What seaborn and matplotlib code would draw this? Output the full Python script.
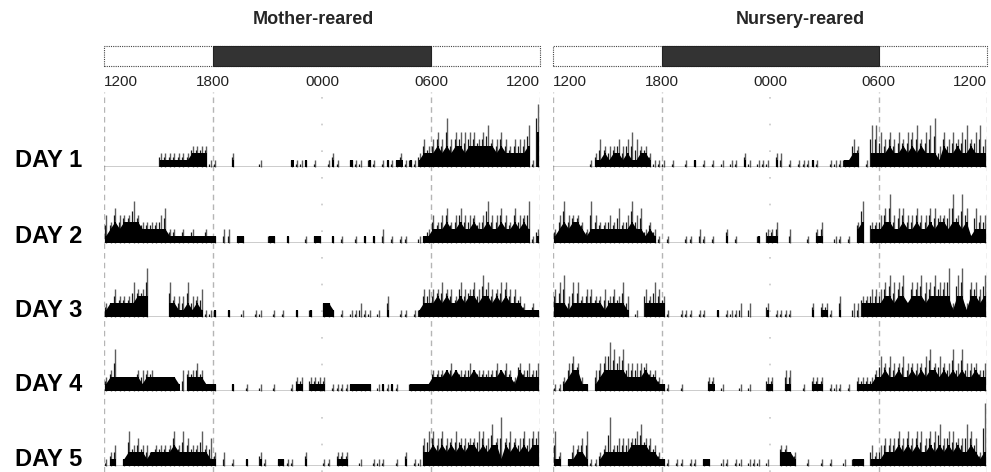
import matplotlib

matplotlib.use("Agg")
import matplotlib.pyplot as plt
import numpy as np
import seaborn as sns

sns.set_theme(style="white")
plt.rcParams["font.family"] = ["Liberation Sans", "DejaVu Sans"]

# 15-min bins starting at 1200, activity level 0-9 per bin
# "body" = dense black activity, "peak" = tallest spike in the bin
GROUPS = ["Mother-reared", "Nursery-reared"]
DAYS = ["DAY 1", "DAY 2", "DAY 3", "DAY 4", "DAY 5"]
TICK_HOURS = [0, 6, 12, 18, 24]
TICK_LABELS = ["1200", "1800", "0000", "0600", "1200"]
BIN_HOURS = 0.25

MR_BODY = [
    "000000000000" "111111122220" "000010000000" "000001001000"
    "001000100010" "001011010122" "232323323333" "332322222305",
    "123233332222" "221111111111" "100001100000" "110010000011"
    "001000000101" "000000000011" "222322322322" "322322323201",
    "122222233300" "002211212100" "100100000000" "000000100100"
    "221000000000" "001000000122" "232322323323" "323232221111",
    "122222221222" "222210222211" "100010000000" "000000110111"
    "100000111110" "010100011111" "222323222322" "222322132222",
    "011012222122" "222322222221" "100000010010" "001100001000"
    "000111000000" "000000100022" "323232323323" "233132323233",
]
MR_PEAK = [
    "000000000000" "222222233331" "100020000010" "000001111010"
    "012100111011" "011112111243" "454745555545" "644543444619",
    "435444643333" "452212121121" "102201100000" "110010001011"
    "001010010101" "020101100112" "434534544434" "644543544612",
    "224333544700" "005333533411" "100100100110" "010100100100"
    "221010112110" "103001101144" "445443544546" "544554432121",
    "236222233332" "222203334311" "100010010010" "010001220222"
    "201111111110" "111110011111" "333343334333" "334343243434",
    "123015343323" "333535433534" "202010010021" "001111002000"
    "110222001001" "110010201145" "545445444455" "464745445455",
]
NR_BODY = [
    "000000000112" "122121122100" "000000010000" "000000100000"
    "010000000100" "000011220022" "223223232322" "213223223222",
    "123233212222" "222223221210" "000000000000" "001000000101"
    "110000000011" "000000023022" "233223223223" "233233231222",
    "222122222221" "222210002222" "200000000000" "100000000001"
    "000000000101" "100100002222" "233233233323" "333313313323",
    "001233110123" "333322223221" "100000000011" "000000000001"
    "100110000111" "000000011112" "232232232323" "323232322322",
    "110112210012" "222223333221" "100000000110" "000000000000"
    "002221000000" "000000111011" "122232323223" "232323223212",
]
NR_PEAK = [
    "000000001243" "334345433211" "101001010101" "010110210111"
    "022010111110" "011111430166" "545454556456" "735454564564",
    "246444326433" "435346452321" "010001102101" "002010000102"
    "230020001023" "001101036033" "457455445445" "544574751544",
    "456355344334" "343530104354" "310011101100" "101112020002"
    "011110000202" "210300223344" "456556255655" "655726725546",
    "112454210345" "765644444332" "110010000022" "010001010002"
    "200330010222" "011101022223" "545445444456" "454464644434",
    "520133451123" "734444564432" "110110110110" "011011011101"
    "003322001001" "010010111032" "344454545545" "564554465429",
]

W, H = 991, 472
COLS = [(104, 540), (553, 987)]
BASELINES = [167, 243, 317, 391, 466]
ROW_PX = 72
UNIT_PX = 7.0


def levels(s):
    return np.array([int(c) for c in s], dtype=float)


def fx(px):
    return px / W


def fy(px):
    return 1 - px / H


fig = plt.figure(figsize=(W / 100, H / 100), dpi=100)
fig.patch.set_facecolor("white")

for (x0, x1), group, bodies, peaks in zip(
    COLS, GROUPS, [MR_BODY, NR_BODY], [MR_PEAK, NR_PEAK]
):
    width = (x1 - x0) / W

    # light/dark bar
    bar_ax = fig.add_axes([fx(x0), fy(66), width, 20 / H])
    bar_ax.set_xlim(0, 24)
    bar_ax.set_ylim(0, 1)
    bar_ax.axis("off")
    bar_ax.add_patch(
        plt.Rectangle((0, 0), 24, 1, facecolor="white", edgecolor="#444444",
                      lw=0.8, ls=(0, (1, 1)), clip_on=False)
    )
    bar_ax.add_patch(
        plt.Rectangle((6, 0), 12, 1, facecolor="#333333", edgecolor="#222222",
                      lw=0.8, clip_on=False)
    )
    trans = bar_ax.get_xaxis_transform()
    for h, lbl in zip(TICK_HOURS, TICK_LABELS):
        ha = "left" if h == 0 else ("right" if h == 24 else "center")
        bar_ax.text(h, -0.8, lbl, transform=trans, ha=ha, va="center",
                    fontsize=11, color="#222222")

    # guide lines
    g_ax = fig.add_axes([fx(x0), 0, width, (H - 92) / H])
    g_ax.set_xlim(0, 24)
    g_ax.set_ylim(0, 1)
    g_ax.axis("off")
    for h in [0, 6, 18, 24]:
        g_ax.axvline(h, color="#b5b5b5", lw=1, ls=(0, (4, 3)), zorder=0)
    g_ax.axvline(12, color="#c8c8c8", lw=1.2, ls=(0, (1, 15)), zorder=0)

    for base, body_s, peak_s in zip(BASELINES, bodies, peaks):
        body = levels(body_s)
        peak = levels(peak_s)
        t = np.arange(len(body)) * BIN_HOURS
        mid = t + BIN_HOURS / 2
        ax = fig.add_axes([fx(x0), fy(base), width, ROW_PX / H])
        ax.set_xlim(0, 24)
        ax.set_ylim(0, ROW_PX / UNIT_PX)
        ax.patch.set_alpha(0)
        ax.vlines(mid, 0, peak, color="#5e5e5e", lw=1.0, zorder=2,
                  clip_on=False)
        ax.vlines(mid - 0.07, 0, np.maximum(body, (body + peak) / 2),
                  color="#1a1a1a", lw=0.9, zorder=2)
        ax.fill_between(mid, 0, body, where=body > 0, color="black", lw=0,
                        zorder=3)
        ax.bar(mid, body, width=BIN_HOURS * 0.45, color="black", lw=0,
               zorder=3)
        ax.plot([0, 24], [0, 0], color="black", lw=1, zorder=4)
        ax.set_xticks([])
        ax.set_yticks([])
        sns.despine(ax=ax, left=True, bottom=True)

for day, base in zip(DAYS, BASELINES):
    fig.text(fx(15), fy(base), day, ha="left", va="baseline",
             fontsize=17, fontweight="bold", color="black")

fig.text(fx(313), fy(20), GROUPS[0], ha="center", va="center",
         fontsize=13, fontweight="bold")
fig.text(fx(800), fy(20), GROUPS[1], ha="center", va="center",
         fontsize=13, fontweight="bold")

fig.savefig("out.png", dpi=100, facecolor="white")
